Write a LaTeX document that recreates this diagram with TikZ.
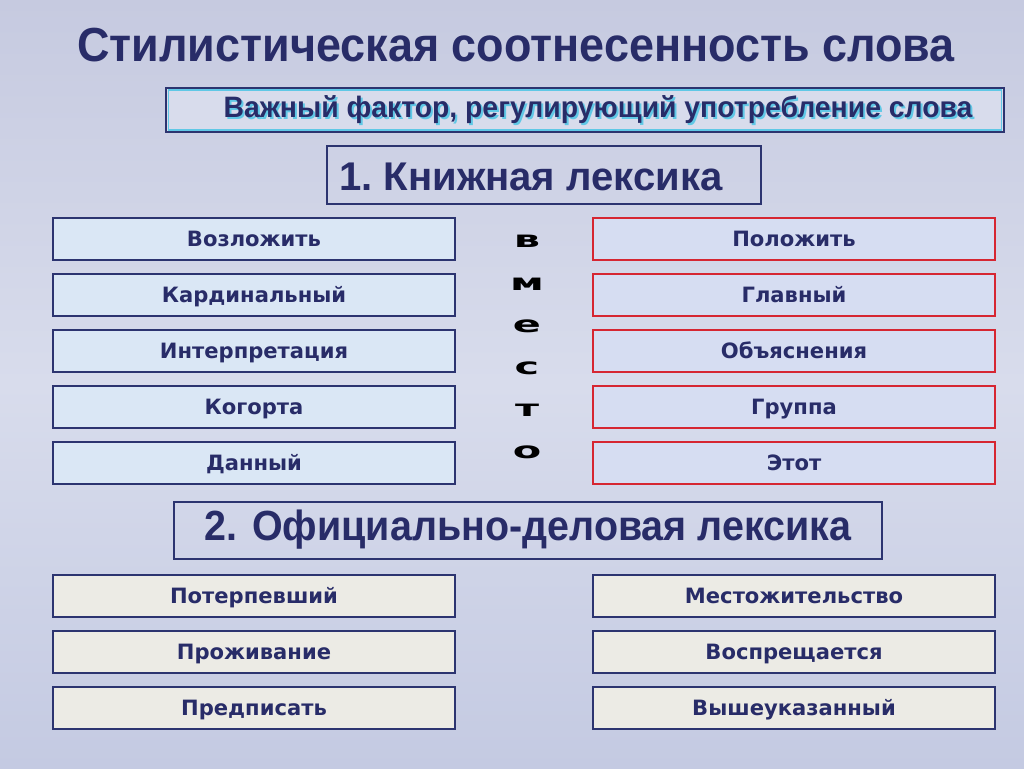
\documentclass[tikz,border=0pt]{standalone}
\usepackage{fontspec}
\setmainfont{Liberation Sans}
\newfontfamily\wideletters{DejaVu Sans}
\usetikzlibrary{positioning}

\definecolor{inkblue}{RGB}{40,44,104}
\definecolor{frameblue}{RGB}{44,52,112}
\definecolor{shadowcyan}{RGB}{96,200,230}
\definecolor{iceblue}{RGB}{218,231,245}
\definecolor{frostpink}{RGB}{214,221,242}
\definecolor{paper}{RGB}{236,235,229}
\definecolor{framered}{RGB}{214,38,50}
\definecolor{slidetop}{RGB}{198,202,224}
\definecolor{slidemid}{RGB}{216,220,236}
\definecolor{slidebot}{RGB}{196,202,226}

\tikzset{
  wordbox/.style={draw=frameblue, line width=0.5mm, minimum width=100.5mm,
    minimum height=10.5mm, inner sep=0pt, text=inkblue,
    text height=14pt, text depth=3pt,
    font=\wideletters\bfseries\fontsize{15}{18}\selectfont},
  bookword/.style={wordbox, fill=iceblue},
  plainword/.style={wordbox, draw=framered, fill=frostpink},
  officeword/.style={wordbox, fill=paper},
  headbox/.style={draw=frameblue, line width=0.5mm, inner sep=0pt, text=inkblue},
  letter/.style={font=\wideletters\bfseries\fontsize{19}{19}\selectfont, xscale=1.55, yscale=0.85}
}

\begin{document}
\begin{tikzpicture}[x=0.25mm,y=-0.25mm]
    \useasboundingbox (0,0) rectangle (1024,768);
    % slide background
    \shade[top color=slidetop, bottom color=slidebot, middle color=slidemid] (0,0) rectangle (1024,768);

    % title and the two headings
    \node[text=inkblue, font=\bfseries\fontsize{34}{40}\selectfont, xscale=0.94] (title) at (516,45) {Стилистическая соотнесенность слова};
    \node[headbox, fill=slidemid, minimum width=209.25mm, minimum height=11mm] (factor) at (585,110) {};
    \draw[shadowcyan, line width=0.3mm] ([shift={(3,3)}]factor.north west) rectangle ([shift={(-3,-3)}]factor.south east);
    \node[text=shadowcyan, font=\bfseries\fontsize{21}{24}\selectfont, xscale=0.96] (factorshadow) at (600,112) {Важный фактор, регулирующий употребление слова};
    \node[text=inkblue, font=\bfseries\fontsize{21}{24}\selectfont, xscale=0.96] (factortext) at (598,110) {Важный фактор, регулирующий употребление слова};
    \node[headbox, minimum width=108.5mm, minimum height=14.5mm] (bookish) at (544,175) {};
    \node[text=inkblue, font=\bfseries\fontsize{28.5}{32}\selectfont, anchor=west, inner sep=0pt] (bookishtext) at (339,177) {1.~Книжная лексика};

    % bookish words and their plain pairs
    \node[bookword] (vozl) at (254,239) {Возложить};
    \node[bookword, below=3mm of vozl] (kard) {Кардинальный};
    \node[bookword, below=3mm of kard] (interp) {Интерпретация};
    \node[bookword, below=3mm of interp] (kog) {Когорта};
    \node[bookword, below=3mm of kog] (dan) {Данный};

    \node[plainword, right=34mm of vozl] (polo) {Положить};
    \node[plainword, below=3mm of polo] (glav) {Главный};
    \node[plainword, below=3mm of glav] (obyas) {Объяснения};
    \node[plainword, below=3mm of obyas] (grup) {Группа};
    \node[plainword, below=3mm of grup] (etot) {Этот};

    % the word "вместо" standing down the middle
    \node[letter] (l1) at (527,241) {в};
    \node[letter] (l2) at (527,284) {м};
    \node[letter] (l3) at (527,326) {е};
    \node[letter] (l4) at (527,368) {с};
    \node[letter] (l5) at (527,410) {т};
    \node[letter] (l6) at (527,452) {о};

    % official words
    \node[headbox, minimum width=177mm, minimum height=14.25mm] (official) at (528,530) {};
    \node[text=inkblue, font=\bfseries\fontsize{30}{34}\selectfont, xscale=0.935] (officialtext) at (528,530) {2. Официально-деловая лексика};

    \node[officeword] (poterp) at (254,596) {Потерпевший};
    \node[officeword, below=3mm of poterp] (prozh) {Проживание};
    \node[officeword, below=3mm of prozh] (predp) {Предписать};

    \node[officeword, right=34mm of poterp] (mesto) {Местожительство};
    \node[officeword, below=3mm of mesto] (vospr) {Воспрещается};
    \node[officeword, below=3mm of vospr] (vyshe) {Вышеуказанный};
\end{tikzpicture}
\end{document}
